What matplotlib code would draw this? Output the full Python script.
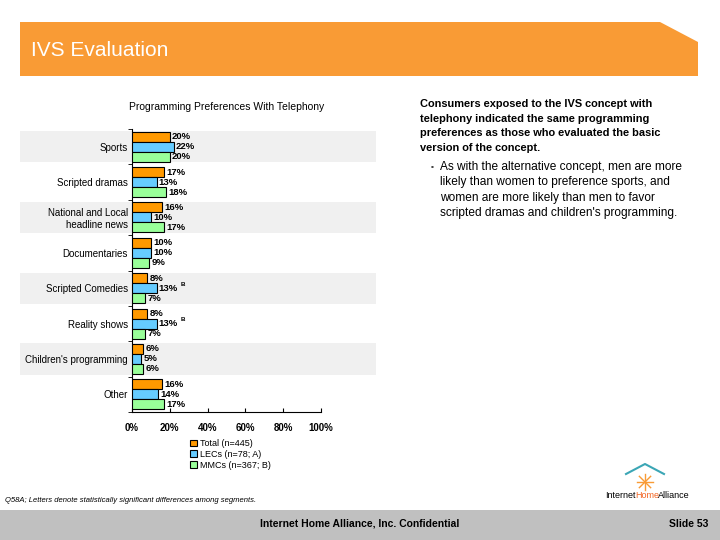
import numpy as np
import matplotlib.pyplot as plt
from matplotlib.patches import Polygon, Rectangle
from matplotlib.transforms import blended_transform_factory

plt.rcParams['font.family'] = ['Liberation Sans', 'DejaVu Sans']

# Chart data
categories = ["Sports", "Scripted dramas", "National and Local\nheadline news",
              "Documentaries", "Scripted Comedies", "Reality shows",
              "Children's programming", "Other"]
total = [20, 17, 16, 10, 8, 8, 6, 16]
lecs = [22, 13, 10, 10, 13, 13, 5, 14]
mmcs = [20, 18, 17, 9, 7, 7, 6, 17]
lecs_sig = ["", "", "", "", "B", "B", "", ""]
series_names = ["Total (n=445)", "LECs (n=78; A)", "MMCs (n=367; B)"]
x_ticks = [0, 20, 40, 60, 80, 100]

colors = ["#FF9900", "#66CCFF", "#99FF99"]

fig = plt.figure(figsize=(7.2, 5.4), dpi=100)

# Slide banner
W, H = 720, 540
def fx(px):
    return px / W
def fy(py):
    return 1 - py / H

banner = Polygon([(fx(20), fy(22)), (fx(660), fy(22)), (fx(698), fy(42)),
                  (fx(698), fy(76)), (fx(20), fy(76))],
                 closed=True, transform=fig.transFigure, facecolor="#F99B35",
                 edgecolor="none")
fig.patches.append(banner)
fig.text(fx(31), fy(50), "IVS Evaluation", color="white", fontsize=15,
         va="center", ha="left")

# Footer
fig.patches.append(Rectangle((0, 0), 1, fy(510), transform=fig.transFigure,
                             facecolor="#C0C0C0", edgecolor="none"))
fig.text(0.5, fy(524), "Internet Home Alliance, Inc. Confidential", fontsize=7.5,
         fontweight="bold", ha="center", va="center")
fig.text(fx(708), fy(524), "Slide 53", fontsize=7.5, fontweight="bold",
         ha="right", va="center")
fig.text(fx(5), fy(500), "Q58A; Letters denote statistically significant differences among segments.",
         fontsize=5.5, style="italic", ha="left", va="center")

# Logo
fig.add_artist(plt.Line2D([fx(626), fx(645), fx(664)], [fy(474), fy(464), fy(474)],
                          transform=fig.transFigure, color="#3BA6B5", lw=1.5))
for ang in np.arange(0, 180, 45):
    dx = 8 * np.cos(np.radians(ang))
    dy = 8 * np.sin(np.radians(ang))
    fig.add_artist(plt.Line2D([fx(645 - dx), fx(645 + dx)], [fy(482 - dy), fy(482 + dy)],
                              transform=fig.transFigure, color="#F99B35", lw=1))
fig.text(fx(636), fy(496), "Internet", fontsize=6.5, ha="right", va="center")
fig.text(fx(647), fy(496), "Home", fontsize=6.5, ha="center", va="center",
         color="#F26522")
fig.text(fx(658), fy(496), "Alliance", fontsize=6.5, ha="left", va="center")

# Right-hand commentary
fig.text(fx(420), fy(99),
         "Consumers exposed to the IVS concept with\n"
         "telephony indicated the same programming\n"
         "preferences as those who evaluated the basic\n"
         "version of the concept.",
         fontsize=7.9, fontweight="bold", ha="left", va="top", linespacing=1.57)
fig.text(fx(431), fy(163), "\u25aa", fontsize=6, ha="left", va="top", color="#444444")
fig.text(fx(440), fy(161),
         "As with the alternative concept, men are more\n"
         "likely than women to preference sports, and\n"
         "women are more likely than men to favor\n"
         "scripted dramas and children's programming.",
         fontsize=8.6, ha="left", va="top", linespacing=1.38)

# Bar chart
ax = fig.add_axes([fx(132), fy(412), fx(321) - fx(132), fy(129) - fy(412)])
ax.patch.set_visible(False)

y = np.arange(len(categories))
h = 0.283
for i, (vals, c, name) in enumerate(zip([total, lecs, mmcs], colors, series_names)):
    ax.barh(y + (i - 1) * h, vals, height=h, color=c, edgecolor="black",
            linewidth=0.8, label=name, zorder=3)
    for yy, v in zip(y + (i - 1) * h, vals):
        ax.text(v + 1.2, yy, f"{v}%", fontsize=6.8, fontweight="bold",
                va="center", ha="left", zorder=4)

for yy, v, s in zip(y, lecs, lecs_sig):
    if s:
        ax.annotate(s, xy=(v, yy), xytext=(17, 3), textcoords="offset points",
                    fontsize=4.5, fontweight="bold", va="center", ha="left")

# Alternating shaded bands across the row
trans = blended_transform_factory(fig.transFigure, ax.transData)
for i in range(0, len(categories), 2):
    ax.add_patch(Rectangle((fx(20), i - 0.44), fx(376) - fx(20), 0.88,
                           transform=trans, facecolor="#F0F0F0",
                           edgecolor="none", clip_on=False, zorder=0))

ax.set_ylim(len(categories) - 0.5, -0.5)
ax.set_xlim(0, 100)
ax.set_yticks(y)
ax.set_yticklabels(categories, fontsize=7)
ax.set_yticks(np.arange(-0.5, len(categories)), minor=True)
ax.tick_params(axis="y", which="major", length=0, pad=3)
ax.tick_params(axis="y", which="minor", length=3, direction="out")
ax.set_xticks(x_ticks)
ax.set_xticklabels([f"{t}%" for t in x_ticks], fontsize=7, fontweight="bold")
ax.tick_params(axis="x", length=3, direction="in", pad=8)
for side in ["top", "right"]:
    ax.spines[side].set_visible(False)
ax.set_title("Programming Preferences With Telephony", fontsize=7.5, pad=14)

ax.legend(loc="upper left", bbox_to_anchor=((186 - 132) / 189, -0.083),
          bbox_transform=ax.transAxes, frameon=False, fontsize=6.5,
          handlelength=0.8, handleheight=0.8, handletextpad=0.4,
          labelspacing=0.2, borderaxespad=0)

fig.savefig("out.png", dpi=100)
